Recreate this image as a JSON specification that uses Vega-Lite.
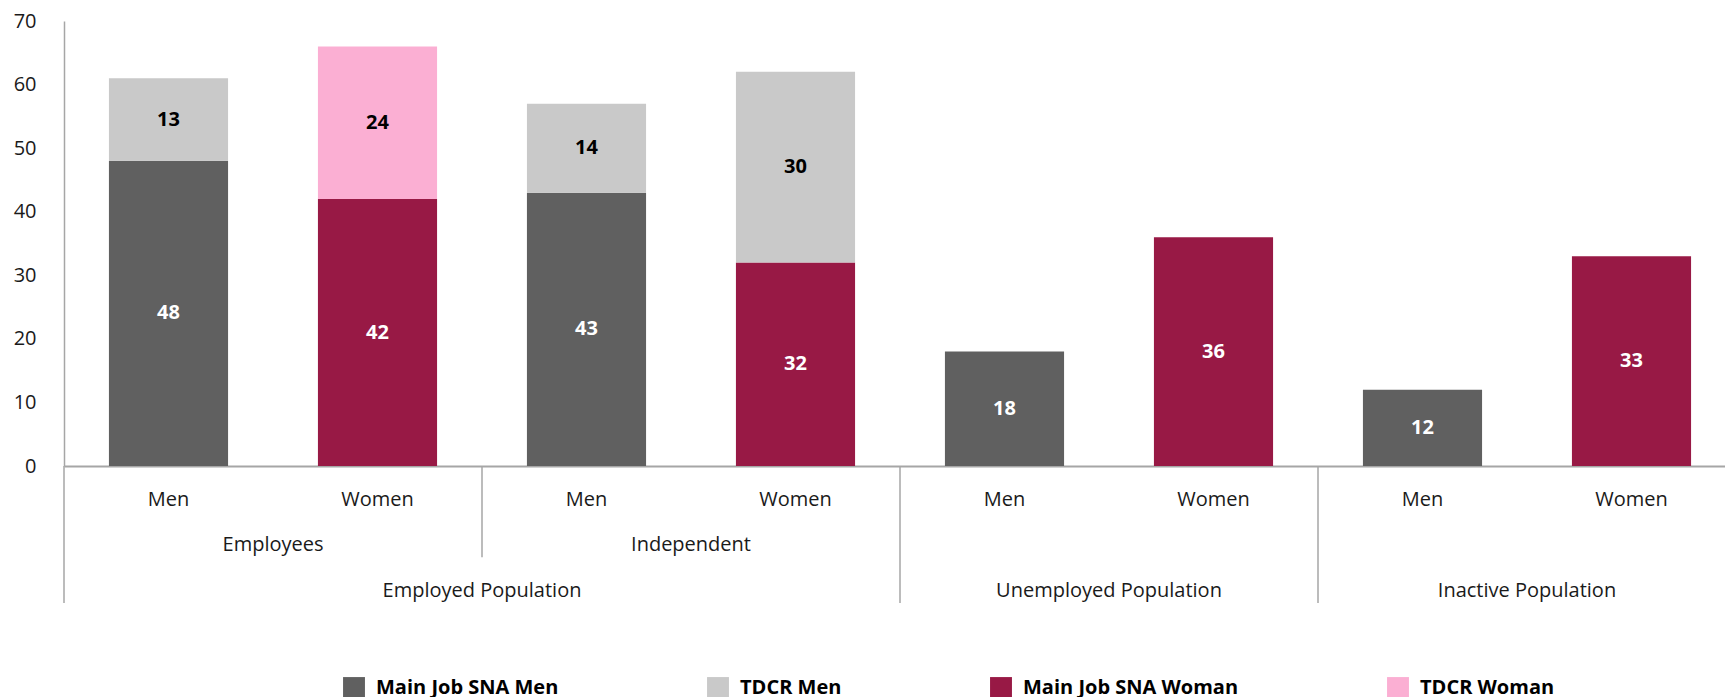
{
  "$schema": "https://vega.github.io/schema/vega-lite/v6.json",
  "padding": {"left": 13, "top": 11, "right": 0, "bottom": 0},
  "autosize": {"type": "pad"},
  "bounds": "flush",
  "spacing": 0,
  "config": {
    "font": "Open Sans",
    "view": {"stroke": null},
    "axis": {"grid": false}
  },
  "datasets": {
    "bars": [
      {"bar": 1, "population": "Employed Population", "status": "Employees", "sex": "Men", "series": "Main Job SNA Men", "value": 48},
      {"bar": 1, "population": "Employed Population", "status": "Employees", "sex": "Men", "series": "TDCR Men", "value": 13},
      {"bar": 2, "population": "Employed Population", "status": "Employees", "sex": "Women", "series": "Main Job SNA Woman", "value": 42},
      {"bar": 2, "population": "Employed Population", "status": "Employees", "sex": "Women", "series": "TDCR Woman", "value": 24},
      {"bar": 3, "population": "Employed Population", "status": "Independent", "sex": "Men", "series": "Main Job SNA Men", "value": 43},
      {"bar": 3, "population": "Employed Population", "status": "Independent", "sex": "Men", "series": "TDCR Men", "value": 14},
      {"bar": 4, "population": "Employed Population", "status": "Independent", "sex": "Women", "series": "Main Job SNA Woman", "value": 32},
      {"bar": 4, "population": "Employed Population", "status": "Independent", "sex": "Women", "series": "TDCR Men", "value": 30},
      {"bar": 5, "population": "Unemployed Population", "status": "", "sex": "Men", "series": "Main Job SNA Men", "value": 18},
      {"bar": 6, "population": "Unemployed Population", "status": "", "sex": "Women", "series": "Main Job SNA Woman", "value": 36},
      {"bar": 7, "population": "Inactive Population", "status": "", "sex": "Men", "series": "Main Job SNA Men", "value": 12},
      {"bar": 8, "population": "Inactive Population", "status": "", "sex": "Women", "series": "Main Job SNA Woman", "value": 33}
    ],
    "labels": [
      {"bar": 1, "level": 1, "label": "Men"},
      {"bar": 2, "level": 1, "label": "Women"},
      {"bar": 3, "level": 1, "label": "Men"},
      {"bar": 4, "level": 1, "label": "Women"},
      {"bar": 5, "level": 1, "label": "Men"},
      {"bar": 6, "level": 1, "label": "Women"},
      {"bar": 7, "level": 1, "label": "Men"},
      {"bar": 8, "level": 1, "label": "Women"},
      {"bar": 1, "level": 2, "label": "Employees"},
      {"bar": 3, "level": 2, "label": "Independent"},
      {"bar": 2, "level": 3, "label": "Employed Population"},
      {"bar": 5, "level": 3, "label": "Unemployed Population"},
      {"bar": 7, "level": 3, "label": "Inactive Population"}
    ],
    "dividers": [
      {"bar": 1, "depth": 3},
      {"bar": 3, "depth": 2},
      {"bar": 5, "depth": 3},
      {"bar": 7, "depth": 3}
    ]
  },
  "resolve": {
    "scale": {"x": "shared", "y": "independent"}
  },
  "vconcat": [
    {
      "width": 1672,
      "height": 445,
      "data": {"name": "bars"},
      "transform": [
        {"stack": "value", "groupby": ["bar"], "sort": [{"field": "series", "order": "ascending"}], "as": ["v0", "v1"]},
        {"calculate": "(datum.v0 + datum.v1) / 2", "as": "mid"}
      ],
      "encoding": {
        "x": {
          "field": "bar",
          "type": "ordinal",
          "scale": {"domain": [1, 2, 3, 4, 5, 6, 7, 8], "paddingInner": 0, "paddingOuter": 0},
          "axis": {"labels": false, "ticks": false, "title": null, "domainColor": "#a6a6a6", "domainWidth": 2}
        }
      },
      "layer": [
        {
          "mark": {"type": "bar", "width": {"band": 0.57}},
          "encoding": {
            "y": {
              "field": "v0",
              "type": "quantitative",
              "scale": {"domain": [0, 70], "nice": false},
              "axis": {
                "values": [0, 10, 20, 30, 40, 50, 60, 70],
                "labelFontSize": 20,
                "labelColor": "#1a1a1a",
                "labelPadding": 28,
                "ticks": false,
                "domainColor": "#a6a6a6",
                "domainWidth": 1.5,
                "title": null,
                "grid": false
              }
            },
            "y2": {"field": "v1"},
            "color": {
              "field": "series",
              "type": "nominal",
              "scale": {
                "domain": ["Main Job SNA Men", "TDCR Men", "Main Job SNA Woman", "TDCR Woman"],
                "range": ["#606060", "#c9c9c9", "#981945", "#fbafd3"]
              },
              "legend": {
                "orient": "none",
                "legendX": 279,
                "legendY": 656,
                "direction": "horizontal",
                "columns": 4,
                "title": null,
                "symbolType": "square",
                "symbolSize": 480,
                "symbolStrokeWidth": 0,
                "labelFontSize": 20,
                "labelFontWeight": "bold",
                "labelColor": "#000000",
                "labelOffset": 11,
                "labelLimit": 400,
                "columnPadding": 148
              }
            }
          }
        },
        {
          "mark": {"type": "text", "fontSize": 20, "fontWeight": "bold", "baseline": "middle"},
          "encoding": {
            "y": {"field": "mid", "type": "quantitative"},
            "text": {"field": "value", "type": "quantitative"},
            "color": {
              "condition": {"test": "indexof(datum.series, 'Main') == 0", "value": "#ffffff"},
              "value": "#000000"
            }
          }
        }
      ]
    },
    {
      "width": 1672,
      "height": 137,
      "encoding": {
        "x": {"field": "bar", "type": "ordinal", "scale": {"domain": [1, 2, 3, 4, 5, 6, 7, 8], "paddingInner": 0, "paddingOuter": 0}, "axis": null}
      },
      "layer": [
        {
          "data": {"name": "dividers"},
          "mark": {"type": "rule", "color": "#a6a6a6", "strokeWidth": 1.5},
          "encoding": {
            "x": {"field": "bar", "type": "ordinal", "bandPosition": 0, "axis": null},
            "y": {"field": "depth", "type": "quantitative", "scale": {"domain": [0, 3], "reverse": true}, "axis": null},
            "y2": {"datum": 0}
          }
        },
        {
          "data": {"name": "labels"},
          "transform": [{"filter": "datum.level == 1"}],
          "mark": {"type": "text", "fontSize": 20, "color": "#1a1a1a", "baseline": "alphabetic", "dy": -6},
          "encoding": {
            "x": {"field": "bar", "type": "ordinal", "bandPosition": 0.5, "axis": null},
            "y": {"field": "level", "type": "quantitative", "axis": null},
            "text": {"field": "label"}
          }
        },
        {
          "data": {"name": "labels"},
          "transform": [{"filter": "datum.level > 1"}],
          "mark": {"type": "text", "fontSize": 20, "color": "#1a1a1a", "baseline": "alphabetic", "dy": -6},
          "encoding": {
            "x": {"field": "bar", "type": "ordinal", "bandPosition": 1, "axis": null},
            "y": {"field": "level", "type": "quantitative", "axis": null},
            "text": {"field": "label"}
          }
        }
      ]
    }
  ]
}
